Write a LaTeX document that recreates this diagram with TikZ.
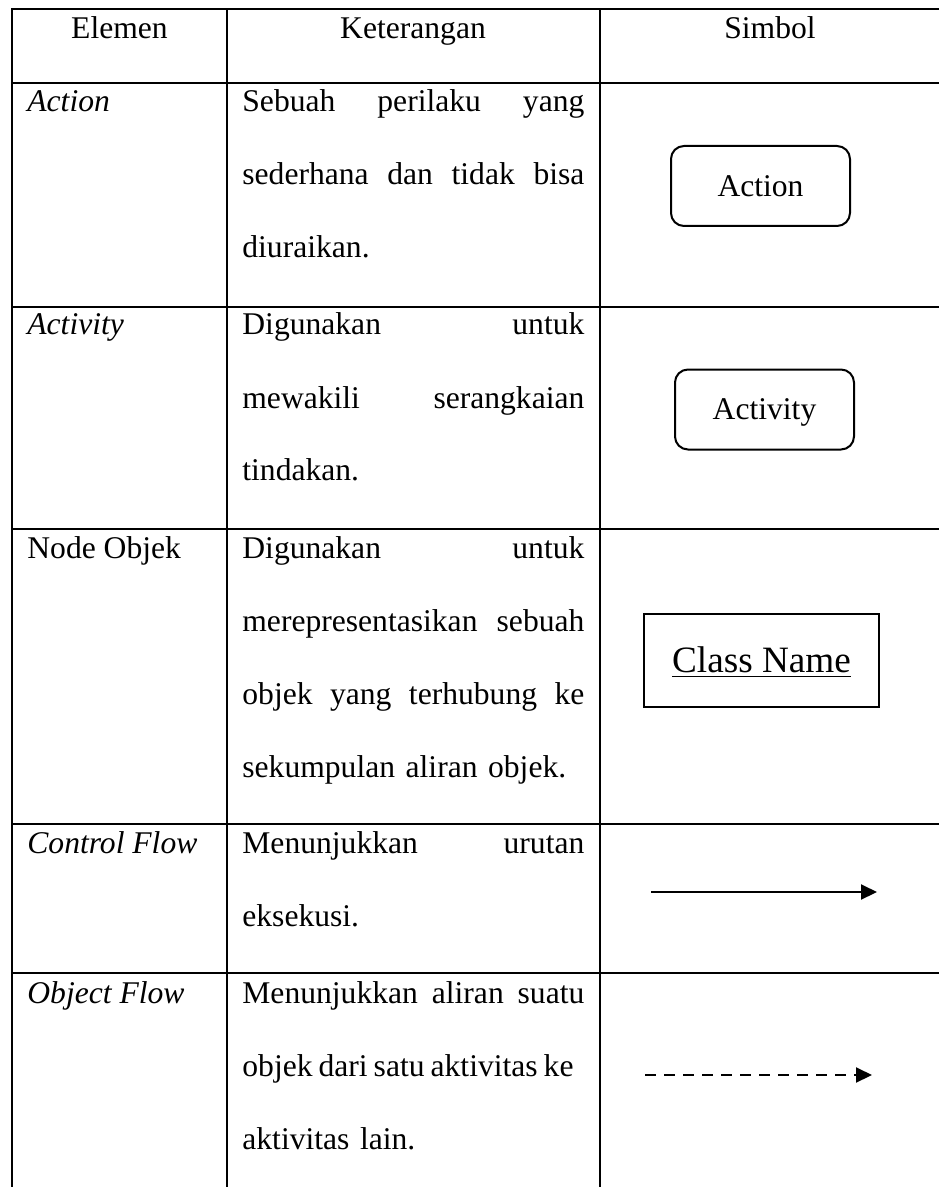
\documentclass[tikz,border=0pt]{standalone}
\usepackage{fontspec}
\setmainfont{Liberation Serif}
\usetikzlibrary{arrows.meta}
\newlength{\desclen}
\setlength{\desclen}{171pt}
% one justified line: the words are spread by \hfill
\newcommand{\jline}[1]{\leavevmode\hbox to \desclen{#1}}
\tikzset{
	grid line/.style={line width=1.2pt},
	head/.style={anchor=base, inner sep=0pt, font=\fontsize{15.8}{19}\selectfont},
	elem/.style={anchor=base west, inner sep=0pt, font=\fontsize{15.8}{19}\selectfont},
	desc/.style={anchor=base west, inner sep=0pt, text width=\desclen, align=left, font=\fontsize{15.8}{36.5}\selectfont},
	roundbox/.style={draw, line width=1pt, rounded corners=6.5pt, minimum width=89.5pt, minimum height=40pt, inner sep=0pt, text height=10.4pt, text depth=0pt, font=\fontsize{15.8}{19}\selectfont},
	objbox/.style={draw, line width=1pt, minimum width=117.5pt, minimum height=46.5pt, inner sep=0pt, text height=12.3pt, text depth=0pt, font=\fontsize{18.6}{22}\selectfont},
	flow/.style={line width=1pt, -{Triangle[length=8pt,width=7.5pt]}},
}
\begin{document}
\begin{tikzpicture}[x=0.5pt, y=-0.5pt]
	\useasboundingbox (0,0) rectangle (939,1187);
	% Table rules
	\draw[grid line] (939,9) -- (12,9) -- (12,1187);
	\foreach \ry in {83,307,529,824,973} {
		\draw[grid line] (12,\ry) -- (939,\ry);
	}
	\foreach \cx in {227,600} {
		\draw[grid line] (\cx,9) -- (\cx,1187);
	}

	% Header row
	\node[head] (hElemen) at (119.5,39) {Elemen};
	\node[head] (hKet) at (413,39) {Keterangan};
	\node[head] (hSimbol) at (770,39) {Simbol};

	% Element names
	\node[elem] (eAction) at (27,112) {\textit{Action}};
	\node[elem] (eActivity) at (27,335) {\textit{Activity}};
	\node[elem] (eNode) at (27,558) {Node Objek};
	\node[elem] (eControl) at (27,853) {\textit{Control Flow}};
	\node[elem] (eObject) at (27,1003) {\textit{Object Flow}};

	% Descriptions
	\node[desc] (dAction) at (242,112) {\jline{Sebuah\hfill perilaku\hfill yang}\\\jline{sederhana\hfill dan\hfill tidak\hfill bisa}\\diuraikan.};
	\node[desc] (dActivity) at (242,335) {\jline{Digunakan\hfill untuk}\\\jline{mewakili\hfill serangkaian}\\tindakan.};
	\node[desc] (dNode) at (242,558) {\jline{Digunakan\hfill untuk}\\\jline{merepresentasikan\hfill sebuah}\\\jline{objek\hfill yang\hfill terhubung\hfill ke}\\sekumpulan aliran objek.};
	\node[desc] (dControl) at (242,853) {\jline{Menunjukkan\hfill urutan}\\eksekusi.};
	\node[desc] (dObject) at (242,1003) {\jline{Menunjukkan\hfill aliran\hfill suatu}\\\jline{objek\hspace{3pt}dari\hspace{3pt}satu\hspace{3pt}aktivitas\hspace{3pt}ke}\\aktivitas lain.};

	% Symbols
	\node[roundbox] (sAction) at (760.5,186) {Action};
	\node[roundbox] (sActivity) at (764.5,409.5) {Activity};
	\node[objbox] (sClass) at (761.5,660.5) {\underline{Class Name}};
	\coordinate (cfStart) at (651,892);
	\coordinate (cfEnd) at (877,892);
	\draw[flow] (cfStart) -- (cfEnd);
	\coordinate (ofStart) at (645,1075);
	\coordinate (ofEnd) at (872,1075);
	\draw[flow, dash pattern=on 5.5pt off 4pt] (ofStart) -- (ofEnd);
\end{tikzpicture}
\end{document}
